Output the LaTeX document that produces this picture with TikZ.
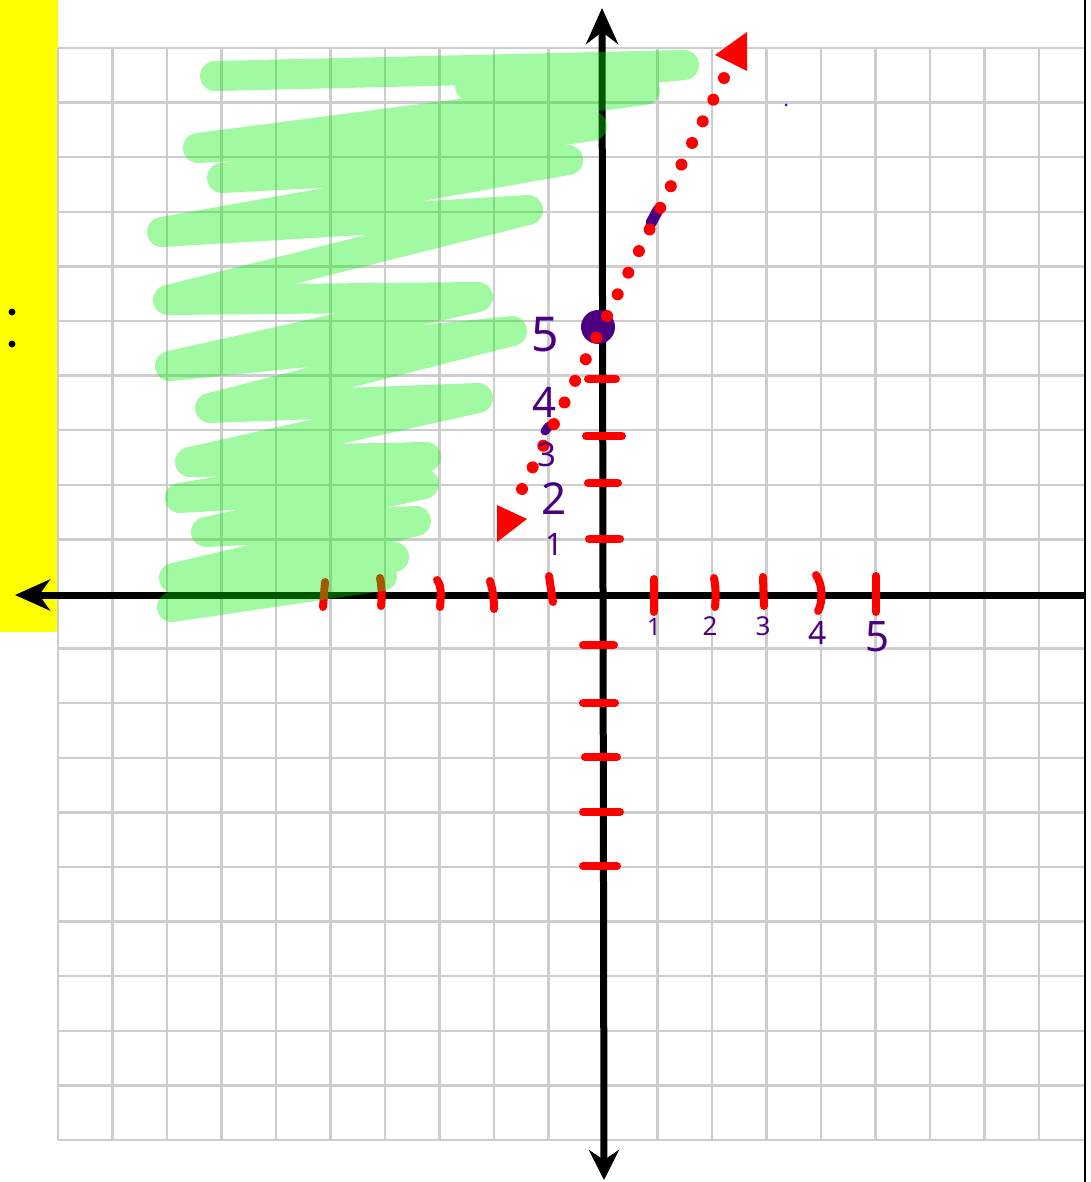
\documentclass[tikz,border=0pt]{standalone}
\usepackage{fontspec}
\setmainfont{Noto Sans}
\usetikzlibrary{arrows.meta}
\definecolor{hlyellow}{RGB}{255,255,0}
\definecolor{gridgray}{RGB}{205,205,205}
\definecolor{penpurple}{RGB}{75,0,130}
\definecolor{hlgreen}{RGB}{0,240,0}
\begin{document}
\begin{tikzpicture}[x=1pt,y=-1pt,
  gridline/.style={draw=gridgray,line width=2.5pt},
  axisline/.style={line width=7pt,black},
  tickmark/.style={red,line width=8pt,line cap=round},
  plabel/.style={text=penpurple,inner sep=0pt},
  dotline/.style={red,line width=12pt,line cap=round,dash pattern=on 0pt off 24.1pt},
  marker/.style={hlgreen,line width=30pt,line cap=round,line join=round}]
\fill[white] (0,0) rectangle (1090,1182);
\useasboundingbox (0,0) rectangle (1090,1182);
% yellow strip
\fill[hlyellow] (0,0) rectangle (58,632);
\fill[black] (12,312) circle (3.5);
\fill[black] (12,344) circle (3.5);
% grid
\foreach \k in {0,...,18} \draw[gridline] ({58+54.5*\k},48) -- ({58+54.5*\k},1140);
\foreach \k in {0,...,20} \draw[gridline] (58,{48+54.6*\k}) -- (1085,{48+54.6*\k});
\draw[black,line width=2.5pt] (1085,0) -- (1085,1182);
% axes
\coordinate (ytop) at (602,8);
\coordinate (ybot) at (604,1180);
\coordinate (xleft) at (15,595);
\coordinate (xright) at (1085,595);
\draw[axisline,arrows={Stealth[length=30pt,width=30pt,inset=10pt]-Stealth[length=36pt,width=32pt,inset=12pt]}] (ybot) -- (ytop);
\draw[axisline,arrows={Stealth[length=35pt,width=31pt,inset=11pt]-}] (xleft) -- (xright);
% y ticks
\foreach \y/\a/\b in {379/588/616,436/586/622,483/588/618,539/589/620,645/583/614,703/583/615,757/585/617,812/583/620,866/583/617}
  \draw[tickmark] (\a,\y) -- (\b,\y);
% x ticks
\draw[tickmark] (325,582) -- (323,607);
\draw[tickmark] (380,578) .. controls (382,588) and (382,598) .. (381,606);
\draw[tickmark] (437,580) .. controls (442,586) and (441,598) .. (440,607);
\draw[tickmark] (490,581) .. controls (493,590) and (494,600) .. (494,609);
\draw[tickmark] (549,576) -- (553,602);
\draw[tickmark] (654,579) -- (654,612);
\draw[tickmark] (714,578) .. controls (716,588) and (716,598) .. (715,607);
\draw[tickmark] (763,577) -- (764,606);
\draw[tickmark] (816,575) .. controls (823,585) and (823,602) .. (818,611);
\draw[tickmark] (876,576) -- (876,612);
% purple marks
\fill[penpurple] (598,327) circle (17);
\draw[penpurple,line width=11pt,line cap=round] (651,223) -- (658,210);
\draw[penpurple,line width=9pt,line cap=round] (545,431) -- (549,426);
\fill[penpurple] (786,105) circle (1.5);
% dotted line with arrowheads
\coordinate (dlo) at (522,489);
\coordinate (dhi) at (724,78);
\draw[dotline] (dlo) -- (dhi);
\fill[red] (747,32) -- (715,55) -- (747,71) -- cycle;
\fill[red] (497,505) -- (527,519) -- (497,542) -- cycle;
% labels
\node[plabel,font=\fontsize{48}{48}\selectfont] (ly5) at (545,335) {5};
\node[plabel,font=\fontsize{42}{42}\selectfont] (ly4) at (545,402) {4};
\node[plabel,font=\bfseries\fontsize{33}{33}\selectfont] (ly3) at (547,455) {3};
\node[plabel,font=\fontsize{44}{44}\selectfont] (ly2) at (554,499) {2};
\node[plabel,font=\bfseries\fontsize{31}{31}\selectfont] (ly1) at (554,544) {1};
\node[plabel,font=\bfseries\fontsize{24}{24}\selectfont] (lx1) at (654,627) {1};
\node[plabel,font=\bfseries\fontsize{26}{26}\selectfont] (lx2) at (710,626) {2};
\node[plabel,font=\bfseries\fontsize{26}{26}\selectfont] (lx3) at (763,626) {3};
\node[plabel,font=\bfseries\fontsize{32}{32}\selectfont] (lx4) at (818,633) {4};
\node[plabel,font=\fontsize{42}{42}\selectfont] (lx5) at (877,637) {5};
% green highlighter scribble
\begin{scope}[transparency group,opacity=0.37]
\draw[marker] (215,76) -- (684,65) -- (470,86) -- (645,90) -- (198,148) -- (592,126)
  -- (222,178) -- (568,160) -- (162,232) -- (528,210) -- (168,300) -- (478,297)
  -- (170,366) -- (512,331) -- (210,408) -- (478,398) -- (190,462) -- (426,457)
  -- (180,498) -- (424,484) -- (206,532) -- (416,521) -- (174,578) -- (394,557)
  -- (172,607) -- (382,576);
\end{scope}
\end{tikzpicture}
\end{document}
